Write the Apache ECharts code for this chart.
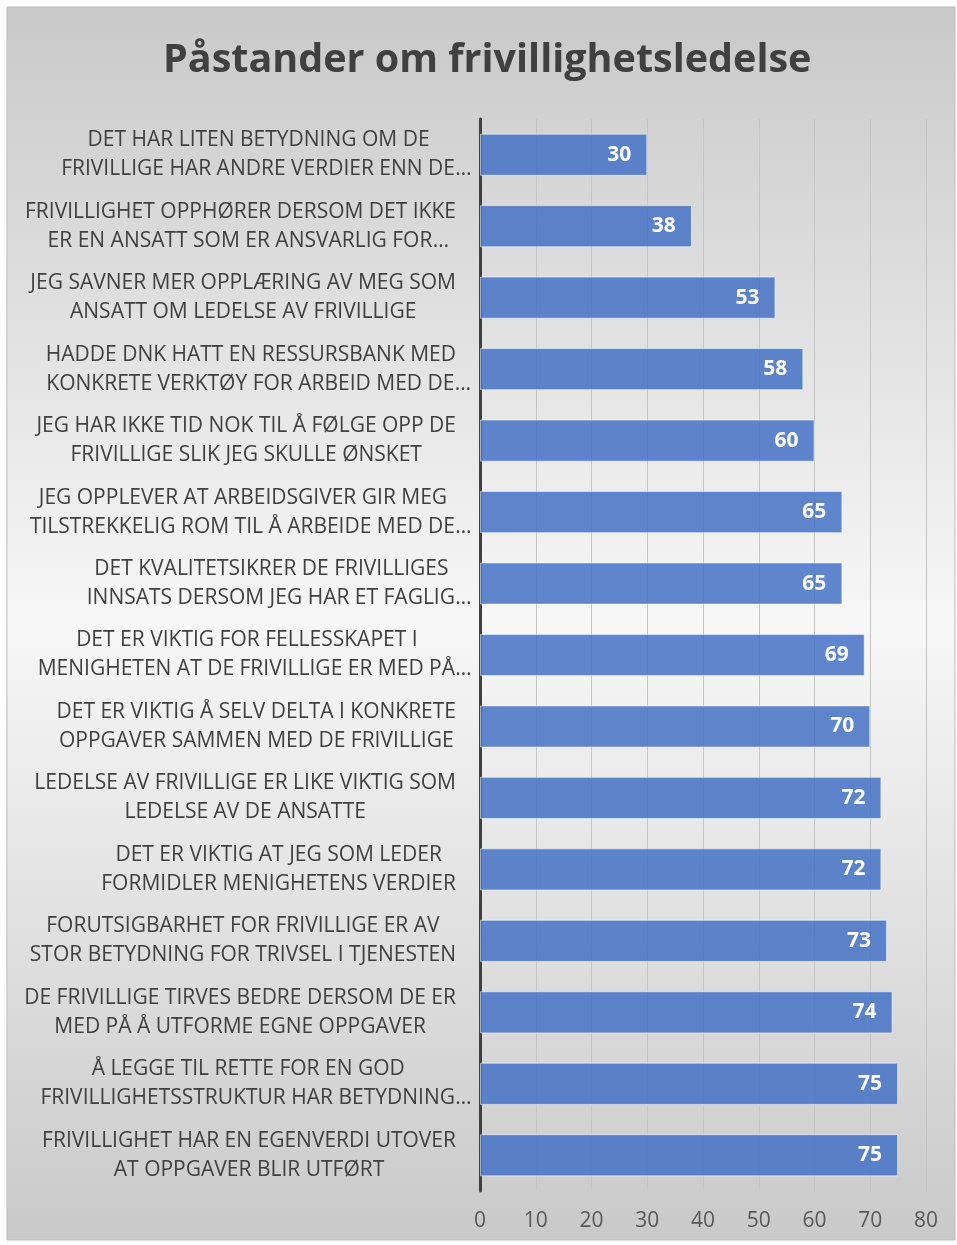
<!DOCTYPE html>
<html>
<head>
<meta charset="utf-8">
<script src="https://cdn.jsdelivr.net/npm/echarts@6/dist/echarts.min.js"></script>
<style>
  html, body { margin: 0; padding: 0; background: #ffffff; }
  #chart { width: 957px; height: 1245px; }
</style>
</head>
<body>
<div id="chart"></div>
<script>
// påstander (ovenfra og ned)
const statements = [
  "DET HAR LITEN BETYDNING OM DE\nFRIVILLIGE HAR ANDRE VERDIER ENN DE…",
  "FRIVILLIGHET OPPHØRER DERSOM DET IKKE\nER EN ANSATT SOM ER ANSVARLIG FOR…",
  "JEG SAVNER MER OPPLÆRING AV MEG SOM\nANSATT OM LEDELSE AV FRIVILLIGE",
  "HADDE DNK HATT EN RESSURSBANK MED\nKONKRETE VERKTØY FOR ARBEID MED DE…",
  "JEG HAR IKKE TID NOK TIL Å FØLGE OPP DE\nFRIVILLIGE SLIK JEG SKULLE ØNSKET",
  "JEG OPPLEVER AT ARBEIDSGIVER GIR MEG\nTILSTREKKELIG ROM TIL Å ARBEIDE MED DE…",
  "DET KVALITETSIKRER DE FRIVILLIGES\nINNSATS DERSOM JEG HAR ET FAGLIG…",
  "DET ER VIKTIG FOR FELLESSKAPET I\nMENIGHETEN AT DE FRIVILLIGE ER MED PÅ…",
  "DET ER VIKTIG Å SELV DELTA I KONKRETE\nOPPGAVER SAMMEN MED DE FRIVILLIGE",
  "LEDELSE AV FRIVILLIGE ER LIKE VIKTIG SOM\nLEDELSE AV DE ANSATTE",
  "DET ER VIKTIG AT JEG SOM LEDER\nFORMIDLER MENIGHETENS VERDIER",
  "FORUTSIGBARHET FOR FRIVILLIGE ER AV\nSTOR BETYDNING FOR TRIVSEL I TJENESTEN",
  "DE FRIVILLIGE TIRVES BEDRE DERSOM DE ER\nMED PÅ Å UTFORME EGNE OPPGAVER",
  "Å LEGGE TIL RETTE FOR EN GOD\nFRIVILLIGHETSSTRUKTUR HAR BETYDNING…",
  "FRIVILLIGHET HAR EN EGENVERDI UTOVER\nAT OPPGAVER BLIR UTFØRT"
];
const scores = [30, 38, 53, 58, 60, 65, 65, 69, 70, 72, 72, 73, 74, 75, 75];
const xTicks = [0, 80, 10]; // min, max, steg

const labelFont = { fontFamily: "Open Sans", fontSize: 21, lineHeight: 29, color: "#404040" };

// linjer med "…" : teksten sentreres, ellipsen henger utenfor (som i Excel)
const formatLabel = (v) =>
  v.split("\n").map((l) => {
    if (l.endsWith("…")) return "{c|" + l.slice(0, -1) + "}{e|…}";
    return "{c|" + l + "}";
  }).join("\n");

const chart = echarts.init(document.getElementById("chart"));

const option = {
  animation: false,
  graphic: [
    {
      type: "rect",
      z: -10,
      shape: { x: 7, y: 7, width: 948, height: 1233 },
      style: {
        fill: {
          type: "linear", x: 0, y: 0, x2: 0, y2: 1,
          colorStops: [
            { offset: 0, color: "#c9c9c9" },
            { offset: 0.5, color: "#f7f7f7" },
            { offset: 1, color: "#c9c9c9" }
          ]
        },
        stroke: "#bdbdbd",
        lineWidth: 1
      }
    }
  ],
  title: {
    text: "Påstander om frivillighetsledelse",
    left: 158,
    top: 36,
    textStyle: {
      fontFamily: "Open Sans",
      fontSize: 39.5,
      fontWeight: "bold",
      color: "#404040"
    }
  },
  grid: { left: 480, right: 31, top: 119, bottom: 54 },
  xAxis: {
    type: "value",
    min: xTicks[0],
    max: xTicks[1],
    interval: xTicks[2],
    axisLine: { show: false },
    axisTick: { show: false },
    splitLine: { lineStyle: { color: "#c4c4c4", width: 1 } },
    axisLabel: {
      margin: 20,
      fontFamily: "Open Sans",
      fontSize: 21,
      color: "#595959"
    }
  },
  yAxis: {
    type: "category",
    inverse: true,
    data: statements,
    axisLine: { show: true, lineStyle: { color: "#404040", width: 3 } },
    axisTick: { show: false },
    axisLabel: {
      margin: 24,
      align: "right",
      formatter: formatLabel,
      rich: {
        c: Object.assign({ align: "center" }, labelFont),
        e: Object.assign({ align: "center", width: 1, padding: [0, -8, 0, 8] }, labelFont)
      }
    }
  },
  series: [
    {
      type: "bar",
      data: scores,
      barCategoryGap: "41%",
      itemStyle: {
        color: "rgba(68,114,196,0.85)",
        borderColor: "rgba(255,255,255,0.55)",
        borderWidth: 1
      },
      label: {
        show: true,
        position: "insideRight",
        distance: 16,
        color: "#ffffff",
        fontFamily: "Open Sans",
        fontWeight: "bold",
        fontSize: 21
      }
    }
  ]
};

chart.setOption(option);
window.addEventListener("resize", () => chart.resize());
</script>
</body>
</html>
